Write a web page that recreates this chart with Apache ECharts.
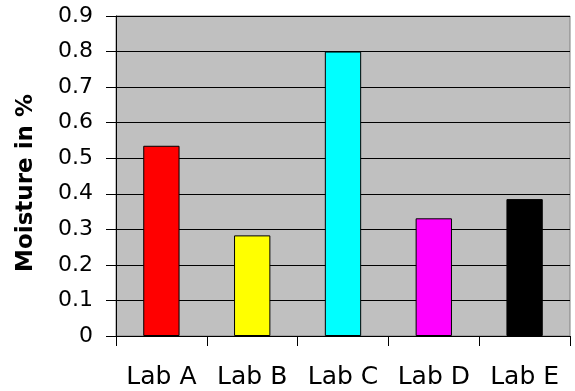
<!DOCTYPE html>
<html>
<head>
<meta charset="utf-8">
<script src="https://cdn.jsdelivr.net/npm/echarts@6/dist/echarts.min.js"></script>
<style>html,body{margin:0;padding:0;background:#fff}#c{width:575px;height:391px}</style>
</head>
<body>
<div id="c"></div>
<script>
const categories = ['Lab A', 'Lab B', 'Lab C', 'Lab D', 'Lab E'];
const moisture = [0.535, 0.283, 0.8, 0.331, 0.385];
const barColors = ['#ff0000', '#ffff00', '#00ffff', '#ff00ff', '#000000'];
const yTicks = [0, 0.1, 0.2, 0.3, 0.4, 0.5, 0.6, 0.7, 0.8, 0.9];

const FONT = '"DejaVu Sans", Arial, sans-serif';
const chart = echarts.init(document.getElementById('c'), null, {renderer: 'canvas'});
chart.setOption({
  animation: false,
  textStyle: {fontFamily: FONT, color: '#000'},
  grid: {left: 116, right: 5, top: 16, bottom: 55, show: true, backgroundColor: '#c0c0c0', borderColor: '#808080', borderWidth: 1},
  xAxis: {
    type: 'category', data: categories,
    axisLine: {lineStyle: {color: '#000', width: 1}},
    axisTick: {show: true, interval: 0, length: 10, lineStyle: {color: '#000'}},
    axisLabel: {interval: 0, margin: 29, fontSize: 25, color: '#000', fontFamily: FONT}
  },
  yAxis: {
    type: 'value', min: 0, max: 0.9, interval: 0.1,
    name: 'Moisture in %', nameLocation: 'middle', nameGap: 78,
    nameTextStyle: {fontSize: 23, fontWeight: 'bold', color: '#000', fontFamily: FONT, padding: [0, 14, 0, 0]},
    axisLine: {show: true, lineStyle: {color: '#000', width: 1}},
    axisTick: {show: true, length: 10, lineStyle: {color: '#000'}},
    axisLabel: {margin: 23, fontSize: 22, color: '#000', fontFamily: FONT,
      formatter: v => { const t = yTicks.find(x => Math.abs(x - v) < 1e-9); return t === undefined ? '' : String(t); }},
    splitLine: {show: true, lineStyle: {color: '#000', width: 1}}
  },
  series: [{
    type: 'bar', data: moisture.map((v, i) => ({value: v, itemStyle: {color: barColors[i]}})),
    barWidth: '40%',
    itemStyle: {borderColor: '#000', borderWidth: 1}
  }]
});
</script>
</body>
</html>
